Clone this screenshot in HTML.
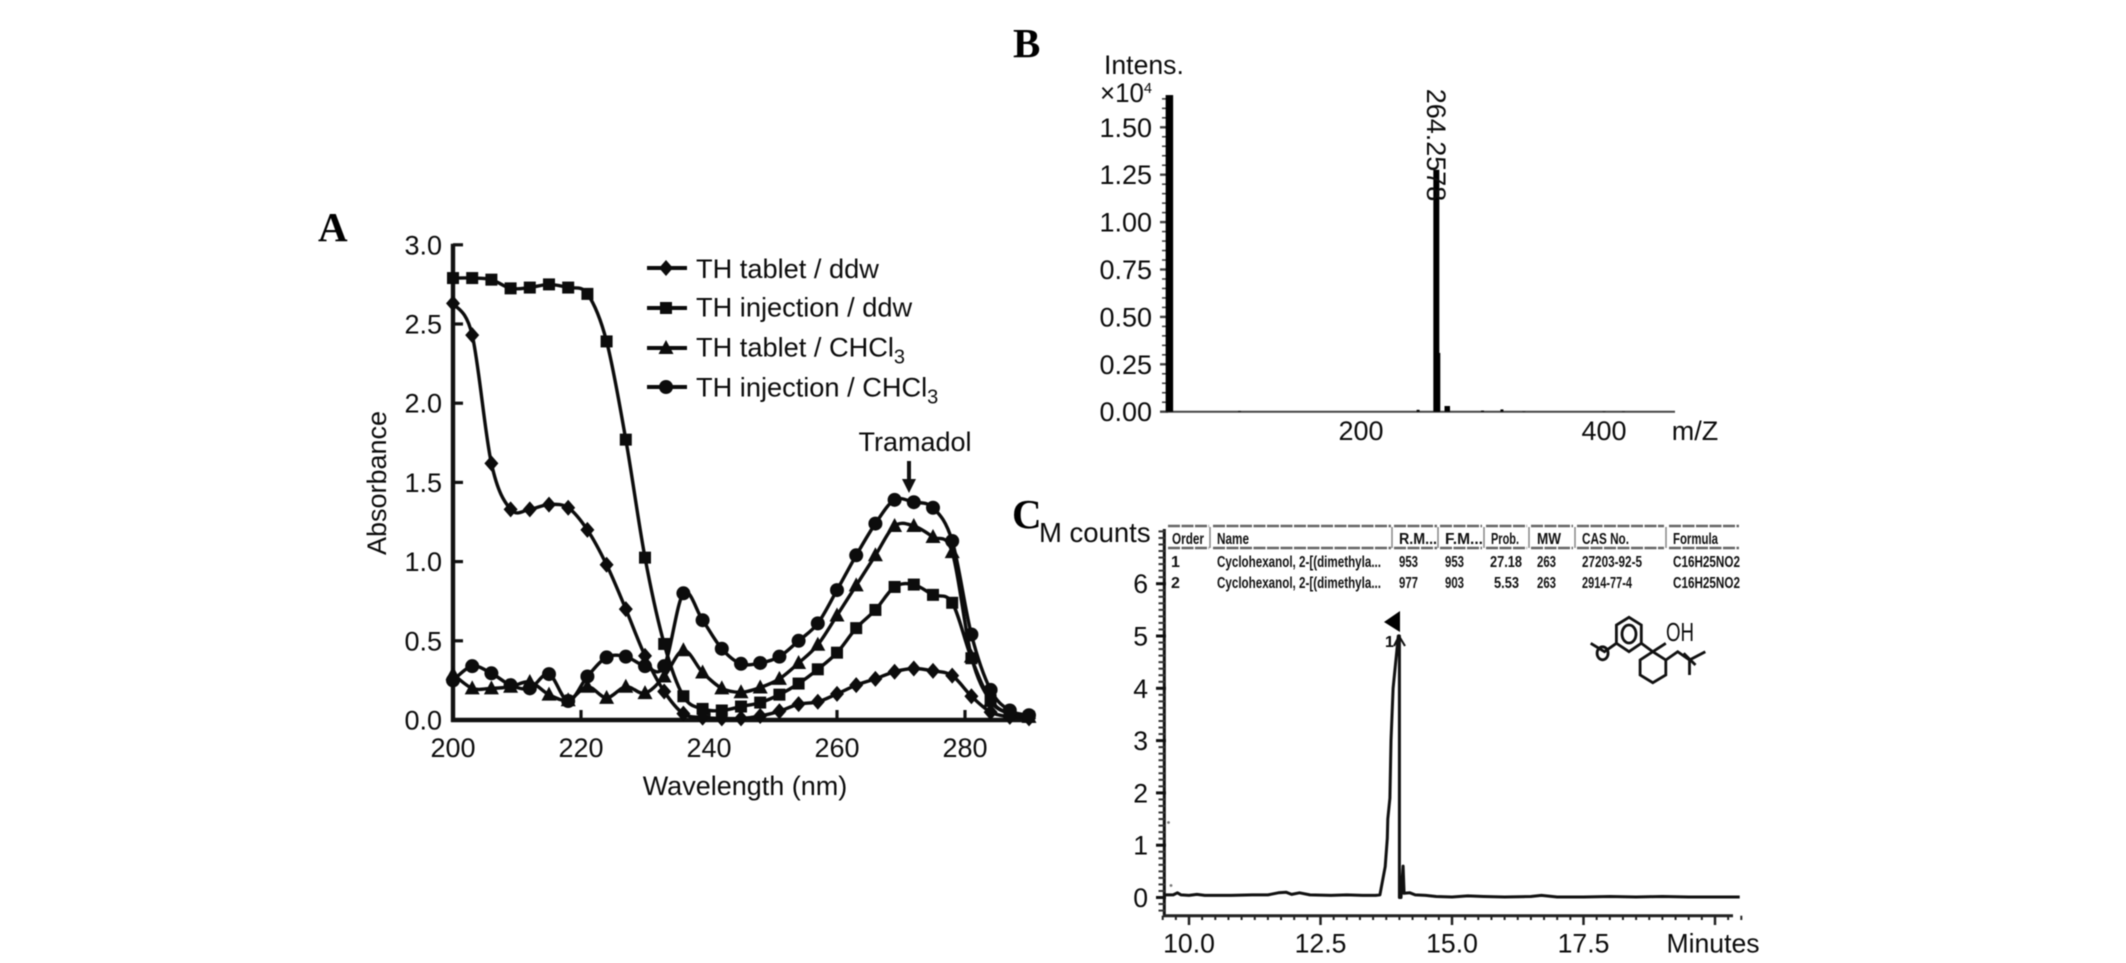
<!DOCTYPE html>
<html lang="en">
<head>
<meta charset="utf-8">
<title>Tramadol absorbance, mass spectrum and chromatogram</title>
<style>
html,body{margin:0;padding:0;background:#fff;width:2126px;height:963px;overflow:hidden}
svg{display:block;filter:blur(0.5px)}
text{font-family:"Liberation Sans",sans-serif;fill:#0c0c0c}
.panel{font-family:"Liberation Serif",serif;font-weight:bold;font-size:41px;fill:#000}
.t27{font-size:27px}
.t26{font-size:26.6px}
.tbl{font-size:16px;font-weight:bold;fill:#111}
.mol{fill:none;stroke:#111;stroke-width:2.8}
</style>
</head>
<body>
<svg id="fig" xmlns="http://www.w3.org/2000/svg" width="2126" height="963" viewBox="0 0 2126 963">
  <rect width="2126" height="963" fill="#fff"/>
  <text class="panel" x="318" y="241">A</text>
  <text class="panel" x="1013" y="57">B</text>
  <text class="panel" x="1012" y="528">C</text>

  <g id="chartA"></g>
  <g id="chartB"></g>
  <g id="chartC"></g>

  <g>
    <text class="t27" x="915" y="451" text-anchor="middle">Tramadol</text>
    <line x1="909" y1="461" x2="909" y2="482" stroke="#111" stroke-width="4"/>
    <polygon points="902,479 916,479 909,493" fill="#111"/>
  </g>

  <g>
    <g stroke="#666" stroke-width="2.4" stroke-dasharray="12 1.5">
      <path d="M1168 526H1209M1213 526H1391M1394 526H1437M1440 526H1482M1486 526H1527M1531 526H1573M1577 526H1664M1669 526H1739"/>
      <path d="M1168 548H1209M1213 548H1391M1394 548H1437M1440 548H1482M1486 548H1527M1531 548H1573M1577 548H1664M1669 548H1739"/>
    </g>
    <path d="M1210 527V548M1392 527V548M1438 527V548M1484 527V548M1529 527V548M1575 527V548M1666 527V548" stroke="#888" stroke-width="1.5"/>
    <g>
      <text class="tbl" x="1172" y="544" textLength="32" lengthAdjust="spacingAndGlyphs">Order</text>
      <text class="tbl" x="1217" y="544" textLength="32" lengthAdjust="spacingAndGlyphs">Name</text>
      <text class="tbl" x="1399" y="544" textLength="38" lengthAdjust="spacingAndGlyphs">R.M...</text>
      <text class="tbl" x="1445" y="544" textLength="38" lengthAdjust="spacingAndGlyphs">F.M...</text>
      <text class="tbl" x="1491" y="544" textLength="28" lengthAdjust="spacingAndGlyphs">Prob.</text>
      <text class="tbl" x="1537" y="544" textLength="24" lengthAdjust="spacingAndGlyphs">MW</text>
      <text class="tbl" x="1582" y="544" textLength="47" lengthAdjust="spacingAndGlyphs">CAS No.</text>
      <text class="tbl" x="1673" y="544" textLength="45" lengthAdjust="spacingAndGlyphs">Formula</text>
    </g>
    <g>
      <text class="tbl" x="1171" y="567">1</text>
      <text class="tbl" x="1217" y="567" textLength="164" lengthAdjust="spacingAndGlyphs">Cyclohexanol, 2-[(dimethyla...</text>
      <text class="tbl" x="1399" y="567" textLength="19" lengthAdjust="spacingAndGlyphs">953</text>
      <text class="tbl" x="1445" y="567" textLength="19" lengthAdjust="spacingAndGlyphs">953</text>
      <text class="tbl" x="1490" y="567" textLength="32" lengthAdjust="spacingAndGlyphs">27.18</text>
      <text class="tbl" x="1537" y="567" textLength="19" lengthAdjust="spacingAndGlyphs">263</text>
      <text class="tbl" x="1582" y="567" textLength="60" lengthAdjust="spacingAndGlyphs">27203-92-5</text>
      <text class="tbl" x="1673" y="567" textLength="67" lengthAdjust="spacingAndGlyphs">C16H25NO2</text>
    </g>
    <g>
      <text class="tbl" x="1171" y="588">2</text>
      <text class="tbl" x="1217" y="588" textLength="164" lengthAdjust="spacingAndGlyphs">Cyclohexanol, 2-[(dimethyla...</text>
      <text class="tbl" x="1399" y="588" textLength="19" lengthAdjust="spacingAndGlyphs">977</text>
      <text class="tbl" x="1445" y="588" textLength="19" lengthAdjust="spacingAndGlyphs">903</text>
      <text class="tbl" x="1494" y="588" textLength="25" lengthAdjust="spacingAndGlyphs">5.53</text>
      <text class="tbl" x="1537" y="588" textLength="19" lengthAdjust="spacingAndGlyphs">263</text>
      <text class="tbl" x="1582" y="588" textLength="50" lengthAdjust="spacingAndGlyphs">2914-77-4</text>
      <text class="tbl" x="1673" y="588" textLength="67" lengthAdjust="spacingAndGlyphs">C16H25NO2</text>
    </g>
  </g>

  <g>
    <path class="mol" d="M1629 617.3L1641.3 625V643.3L1629 651.7L1616.4 643.3V625Z"/>
    <ellipse class="mol" cx="1629" cy="634" rx="7" ry="9"/>
    <path class="mol" d="M1641.3 643.3L1652.8 651.7L1665.8 660V675L1652.8 682.7L1640.1 675V660L1652.8 651.7L1665.8 643.3"/>
    <path class="mol" d="M1665.8 660L1677.7 651.7L1689.5 660L1705.3 651.7M1689.5 660V675M1683.6 653.3L1695.5 665"/>
    <path class="mol" d="M1616.4 643.3L1604.5 651.7L1590.7 643.3"/>
    <ellipse class="mol" cx="1602.6" cy="653.3" rx="5.5" ry="6.5"/>
    <text x="1666" y="641" font-size="26" textLength="28" lengthAdjust="spacingAndGlyphs">OH</text>
  </g>
  <g fill="#777">
    <circle cx="1168.5" cy="822.5" r="1.4"/>
    <circle cx="1171" cy="885.5" r="1.4"/>
  </g>
</svg>

<script>
/* ---------- Panel A data ---------- */
const wavelengths = [200,203,206,209,212,215,218,221,224,227,230,233,236,239,242,245,248,251,254,257,260,263,266,269,272,275,278,281,284,287,290];
const tabletDdw = [2.63,2.43,1.62,1.33,1.33,1.36,1.34,1.20,0.98,0.70,0.405,0.18,0.04,0.015,0.01,0.01,0.025,0.055,0.10,0.115,0.165,0.22,0.26,0.305,0.325,0.31,0.28,0.15,0.05,0.02,0.01];
const injectionDdw = [2.79,2.79,2.78,2.725,2.73,2.75,2.73,2.69,2.39,1.77,1.025,0.48,0.15,0.07,0.06,0.085,0.11,0.16,0.23,0.32,0.425,0.58,0.695,0.84,0.855,0.79,0.74,0.39,0.125,0.04,0.02];
const tabletChcl3 = [0.29,0.20,0.20,0.21,0.24,0.16,0.125,0.21,0.14,0.21,0.17,0.275,0.44,0.30,0.20,0.175,0.205,0.26,0.36,0.475,0.66,0.85,1.04,1.225,1.225,1.155,1.06,0.40,0.12,0.04,0.02];
const injectionChcl3 = [0.25,0.34,0.295,0.22,0.20,0.29,0.12,0.275,0.395,0.40,0.34,0.34,0.80,0.63,0.45,0.355,0.36,0.40,0.50,0.61,0.82,1.04,1.24,1.39,1.375,1.34,1.13,0.54,0.19,0.06,0.03];
const absTicksY = ["0.0","0.5","1.0","1.5","2.0","2.5","3.0"];
const absTicksX = ["200","220","240","260","280"];

/* ---------- Panel B data ---------- */
const mzValues = [42.3,100,247,262,263,271,300,316,334,400,416];
const mzIntensity = [1.67,0.004,0.01,1.276,0.31,0.03,0.006,0.012,0.002,0.002,0.002];
const msTicksY = ["0.00","0.25","0.50","0.75","1.00","1.25","1.50"];
const msTicksX = ["200","400"];

/* ---------- Panel C data ---------- */
const times = [9.52,9.7,9.78,9.85,10.0,10.15,10.3,10.5,10.8,11.2,11.5,11.7,11.85,11.95,12.1,12.3,12.7,13.0,13.3,13.55,13.63,13.73,13.77,13.78,13.82,13.84,13.88,13.98,14.0,14.0,14.03,14.07,14.09,14.2,14.3,14.5,14.7,15.0,15.3,15.6,16.0,16.5,16.7,17.0,17.5,18.0,18.5,19.0,19.5,20.0,20.47];
const counts = [0.05,0.05,0.09,0.05,0.04,0.06,0.04,0.04,0.04,0.05,0.05,0.09,0.10,0.06,0.09,0.05,0.04,0.05,0.04,0.04,0.05,0.59,1.13,1.5,1.9,3.0,4.0,5.0,5.0,0.0,0.0,0.6,0.08,0.09,0.05,0.04,0.02,0.01,0.03,0.02,0.01,0.02,0.04,0.01,0.01,0.02,0.01,0.02,0.01,0.01,0.01];
const gcTicksY = ["0","1","2","3","4","5","6"];
const gcTicksX = ["10.0","12.5","15.0","17.5"];

const NS = "http://www.w3.org/2000/svg";
function mk(parent, tag, attrs, txt) {
  const el = document.createElementNS(NS, tag);
  for (const k in attrs) el.setAttribute(k, attrs[k]);
  if (txt !== undefined) el.textContent = txt;
  parent.appendChild(el);
  return el;
}
function smooth(pts) {
  let d = "M" + pts[0][0].toFixed(1) + " " + pts[0][1].toFixed(1);
  for (let i = 0; i < pts.length - 1; i++) {
    const p0 = pts[Math.max(i - 1, 0)], p1 = pts[i], p2 = pts[i + 1], p3 = pts[Math.min(i + 2, pts.length - 1)];
    const c1x = p1[0] + (p2[0] - p0[0]) / 6, c1y = p1[1] + (p2[1] - p0[1]) / 6;
    const c2x = p2[0] - (p3[0] - p1[0]) / 6, c2y = p2[1] - (p3[1] - p1[1]) / 6;
    d += "C" + c1x.toFixed(1) + " " + c1y.toFixed(1) + " " + c2x.toFixed(1) + " " + c2y.toFixed(1) + " " + p2[0].toFixed(1) + " " + p2[1].toFixed(1);
  }
  return d;
}
function marker(parent, kind, x, y) {
  let el;
  if (kind === "diamond") el = mk(parent, "polygon", {points: [x, y - 8, x + 7, y, x, y + 8, x - 7, y].join(" "), fill: "#0c0c0c"});
  else if (kind === "square") el = mk(parent, "rect", {x: x - 6, y: y - 6, width: 12, height: 12, fill: "#0c0c0c"});
  else if (kind === "triangle") el = mk(parent, "polygon", {points: [x, y - 8, x + 7.5, y + 6, x - 7.5, y + 6].join(" "), fill: "#0c0c0c"});
  else el = mk(parent, "circle", {cx: x, cy: y, r: 7, fill: "#0c0c0c"});
  return el;
}

/* ---------- Panel A ---------- */
const A = document.getElementById("chartA");
const xA = w => 453 + (w - 200) * 6.4;
const yA = v => 720 - v * 158.4;

const axisYA = mk(A, "line", {x1: xA(200), x2: xA(200), y1: yA(3) - 1, y2: yA(0) + 2, stroke: "#111", "stroke-width": 4.4});


const axisXA = mk(A, "line", {x1: xA(200) - 2, x2: xA(290) + 2, y1: yA(0), y2: yA(0), stroke: "#111", "stroke-width": 4.4});



absTicksY.forEach(t => {
  const v = parseFloat(t);
  const tick = mk(A, "line", {x1: xA(200), x2: xA(200) + 10, y1: yA(v), y2: yA(v), stroke: "#111", "stroke-width": 3.2});
  
  
  const lab = mk(A, "text", {class: "t27", x: 442, y: yA(v) + 9.5, "text-anchor": "end"}, t);
  
  
});
absTicksX.forEach(t => {
  const v = parseFloat(t);
  const tick = mk(A, "line", {x1: xA(v), x2: xA(v), y1: yA(0), y2: yA(0) - 10, stroke: "#111", "stroke-width": 3.2});
  
  
  const lab = mk(A, "text", {class: "t27", x: xA(v), y: 757, "text-anchor": "middle"}, t);
  
  
});
const xTitleA = mk(A, "text", {class: "t27", x: 745, y: 795, "text-anchor": "middle"}, "Wavelength (nm)");


const yTitleA = mk(A, "text", {class: "t27", x: 0, y: 0, "text-anchor": "middle", transform: "translate(386 483) rotate(-90)"}, "Absorbance");



const seriesA = [
  {values: tabletDdw, kind: "diamond", label: "TH tablet / ddw", sub: "", ly: 268, ty: 278},
  {values: injectionDdw, kind: "square", label: "TH injection / ddw", sub: "", ly: 308, ty: 316.5},
  {values: tabletChcl3, kind: "triangle", label: "TH tablet / CHCl", sub: "3", ly: 348, ty: 356.5},
  {values: injectionChcl3, kind: "circle", label: "TH injection / CHCl", sub: "3", ly: 387, ty: 396.5}
];
seriesA.forEach(s => {
  const g = mk(A, "g", {});
  
  
  const pts = wavelengths.map((w, i) => [xA(w), yA(s.values[i])]);
  const line = mk(g, "path", {d: smooth(pts), fill: "none", stroke: "#0c0c0c", "stroke-width": 3.4});
  
  
  pts.forEach(p => {
    const m = marker(g, s.kind, p[0], p[1]);
    
    
  });

  const le = mk(A, "g", {});
  
  
  mk(le, "line", {x1: 647, x2: 687, y1: s.ly, y2: s.ly, stroke: "#0c0c0c", "stroke-width": 4});
  marker(le, s.kind, 666, s.ly);
  const tx = mk(le, "text", {x: 696, y: s.ty, "font-size": 27.2}, s.label);
  if (s.sub) mk(tx, "tspan", {dy: 7, "font-size": 20}, s.sub);
});

/* ---------- Panel B ---------- */
const B = document.getElementById("chartB");
const xB = m => 1361 + (m - 200) * 1.215;
const yB = v => 411.7 - v * 189.6;

const baseB = mk(B, "line", {x1: 1166, x2: 1675, y1: yB(0), y2: yB(0), stroke: "#444", "stroke-width": 2});


msTicksY.forEach(t => {
  const v = parseFloat(t);
  const lab = mk(B, "text", {class: "t27", x: 1152, y: yB(v) + 9.5, "text-anchor": "end"}, t);
  
  
  for (let k = 0; k < 5 && v + k * 0.05 <= 1.65; k++) {
    const mt = mk(B, "line", {x1: k === 0 ? 1160 : 1162, x2: 1168, y1: yB(v + k * 0.05), y2: yB(v + k * 0.05), stroke: "#444", "stroke-width": k === 0 ? 2.4 : 1.6});
    
    
  }
});
msTicksX.forEach(t => {
  const v = parseFloat(t);
  const lab = mk(B, "text", {class: "t27", x: xB(v), y: 440, "text-anchor": "middle"}, t);
  
  
});
mzValues.forEach((m, i) => {
  const v = mzIntensity[i];
  const w = v > 1.5 ? 7.5 : (v > 1 ? 6 : (v > 0.02 ? 5.5 : 3));
  const bar = mk(B, "rect", {x: xB(m) - w / 2, y: yB(v), width: w, height: yB(0) - yB(v), fill: "#000"});
  
  
});
const peakLabelB = mk(B, "text", {class: "t27", x: 0, y: 0, "text-anchor": "middle", transform: "translate(1427 145) rotate(90)", "font-size": 27.5}, "264.2578");


const intensB = mk(B, "text", {class: "t26", x: 1104, y: 74}, "Intens.");


const expB = mk(B, "text", {class: "t26", x: 1100, y: 102, textLength: 52, lengthAdjust: "spacingAndGlyphs"}, "×10");


mk(expB, "tspan", {dy: -9, "font-size": 15}, "4");
const mzB = mk(B, "text", {class: "t27", x: 1695, y: 440, "text-anchor": "middle"}, "m/Z");



/* ---------- Panel C ---------- */
const C = document.getElementById("chartC");
const xC = t => 1189 + (t - 10) * 52.6;
const yC = v => 897.5 - v * 52.3;

const axisYC = mk(C, "line", {x1: 1164.3, x2: 1164.3, y1: 529, y2: 916, stroke: "#111", "stroke-width": 3});


const axisXC = mk(C, "line", {x1: 1163, x2: 1733, y1: 915.7, y2: 915.7, stroke: "#222", "stroke-width": 3});


for (let v = -0.25; v <= 7.1; v += 0.125) {
  const mt = mk(C, "line", {x1: 1158.5, x2: 1165, y1: yC(v), y2: yC(v), stroke: "#333", "stroke-width": 2});
  
  
}
gcTicksY.forEach(t => {
  const v = parseFloat(t);
  const tick = mk(C, "line", {x1: 1156, x2: 1166, y1: yC(v), y2: yC(v), stroke: "#111", "stroke-width": 3});
  
  
  const lab = mk(C, "text", {class: "t26", x: 1148, y: yC(v) + 9.5, "text-anchor": "end"}, t);
  
  
});
for (let t = 9.5; t <= 20.5; t += 0.25) {
  const major = Math.abs((t / 2.5) - Math.round(t / 2.5)) < 0.001;
  const mt = mk(C, "line", {x1: xC(t), x2: xC(t), y1: 915.7, y2: major ? 925 : 920, stroke: "#222", "stroke-width": major ? 2.5 : 2});
  
  
}
gcTicksX.forEach(t => {
  const v = parseFloat(t);
  const lab = mk(C, "text", {class: "t26", x: xC(v), y: 952.5, "text-anchor": "middle"}, t);
  
  
});
const minutesC = mk(C, "text", {class: "t26", x: 1713, y: 952.5, "text-anchor": "middle"}, "Minutes");


const countsC = mk(C, "text", {x: 1039, y: 542, "font-size": 27.5}, "M counts");


const traceC = mk(C, "polyline", {points: times.map((t, i) => xC(t).toFixed(1) + "," + yC(counts[i]).toFixed(1)).join(" "), fill: "none", stroke: "#111", "stroke-width": 3, "stroke-linejoin": "round"});


const flagC = mk(C, "polygon", {points: "1400,611 1400,632 1384,622", fill: "#000"});


const peakNumC = mk(C, "text", {x: 1385, y: 647, "font-size": 16, "font-weight": "bold"}, "1");


const peakArrowC = mk(C, "path", {d: "M1394 646L1399 636L1405 646", fill: "none", stroke: "#111", "stroke-width": 2});


</script>
</body>
</html>
